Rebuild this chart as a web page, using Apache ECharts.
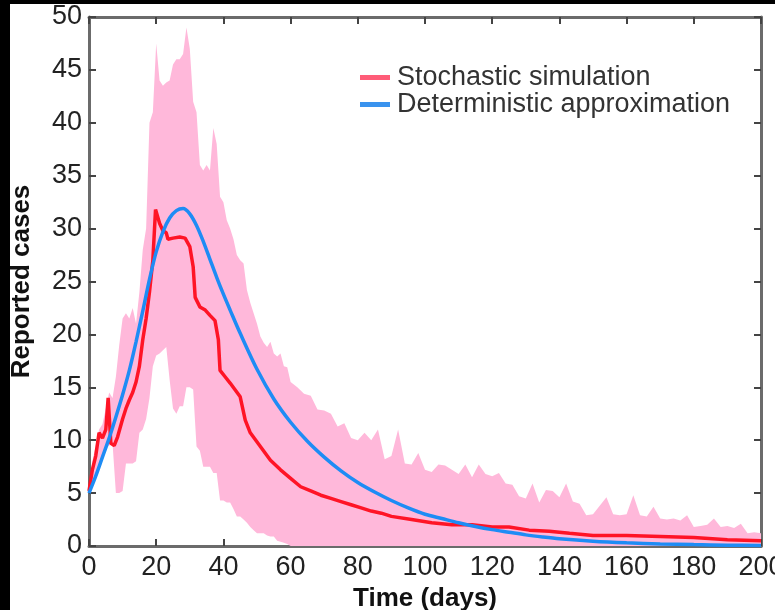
<!DOCTYPE html>
<html>
<head>
<meta charset="utf-8">
<script src="https://cdn.jsdelivr.net/npm/echarts@6/dist/echarts.min.js"></script>
<style>
  html, body { margin: 0; padding: 0; background: #000; }
  #chart { position: absolute; left: 10px; top: 4px; width: 765px; height: 606px; background: #fff; }
</style>
</head>
<body>
<div id="chart"></div>
<script>
// spread of the simulations (pink band)
const bandDays = [0,1,2,3,4,5,6,7,8,9,10,11,12,13,14,15,16,17,18,19,20,21,22,23,24,25,26,27,28,29,30,
  31,32,33,34,35,36,37,38,39,40,41,42,43,44,45,46,47,48,49,50,51,52,53,54,55,56,57,58,59,60,
  62,64,66,68,70,72,74,76,78,80,82,84,86,88,90,92,94,96,98,100,102,104,106,108,110,112,114,116,118,120,
  122,124,126,128,130,132,134,136,138,140,142,144,146,148,150,152,154,156,158,160,162,164,166,168,170,
  172,174,176,178,180,182,184,186,188,190,192,194,196,198,200];
const bandHigh = [5.5,8,9.5,11,11.5,13,14.5,14,16,19,21.5,22,21.5,22.5,21,24,28,30,40,41,47.5,44,43.5,43.8,44,45.5,46,46,46.5,49,47,
  42,41,36,35.5,36,35.5,39.5,38,33,32.5,30.8,30,29,27.5,27,26.7,24.2,23,22,21,19.8,19.2,18.8,19.3,18.2,17.9,18.2,17,16.9,15.5,
  15,14.4,14.2,12.9,12.8,12.5,11.3,11.6,10.2,10,10.7,10,11,8.2,8.5,11,7.8,7.7,8.8,7.2,7,7.7,7.6,7.2,6.8,7.7,6.5,7.7,6.8,6.6,
  6.9,5.9,5.8,4.7,4.5,5.9,4.1,5.3,5.2,4.6,5.9,4.2,4,2.9,3,3.8,4.6,3,2.9,3,4.8,2.9,2.8,3.7,2.6,
  2.5,2.6,2.4,2.9,1.8,1.9,2,2.6,1.8,1.9,1.7,2.1,1.2,1.3,1.2];
const bandLow = [5,5.5,6.5,7.5,8.5,9.2,9.5,9.7,5,5,5.2,7.8,7.8,7.8,8,10.7,11,12,14,17,18,18.2,18.5,18.8,15.7,13,12.5,13.2,13.2,15,15,
  14.8,9.4,9,7.5,7.5,7.5,6.9,6.9,4.3,4.3,4.1,4.1,3.5,2.8,2.8,2.5,2.2,1.8,1.5,1.2,1.2,1.2,1,0.9,0.9,0.5,0.4,0.3,0.2,0,
  0,0,0,0,0,0,0,0,0,0,0,0,0,0,0,0,0,0,0,0,0,0,0,0,0,0,0,0,0,0,
  0,0,0,0,0,0,0,0,0,0,0,0,0,0,0,0,0,0,0,0,0,0,0,0,0,
  0,0,0,0,0,0,0,0,0,0,0,0,0,0,0];

// stochastic simulation (red)
const simDays = [0,1,2,3,4,5,5.7,6.5,7.5,8.5,10,11,12,13,14,15,16,17,18,19,19.8,21,22,23,23.5,25,27,28.6,30,31,31.6,33,34.6,36,37.5,38.5,39,
  40.5,42,45,46.5,48,51,54,57,60,63,66,69,72,75,78,81,84,87,90,96,102,108,114,120,125,131,137,143,150,160,170,180,190,200];
const simMean = [5.2,7.2,8.5,10.7,10.2,11,14,9.7,9.5,10.3,12,13,13.8,14.5,15.5,17,19.5,21.5,24,27,31.8,30.5,29.8,29.6,29,29.1,29.2,29.1,28.3,26.4,23.5,22.6,22.3,21.8,21.3,19.5,16.6,
  16,15.4,14.1,11.9,10.7,9.4,8.1,7.2,6.4,5.6,5.2,4.8,4.5,4.2,3.9,3.6,3.3,3.1,2.8,2.5,2.2,2,2,1.8,1.8,1.5,1.4,1.2,1,1,0.9,0.8,0.6,0.5];

// deterministic approximation (blue)
const detDays = [0,2,4,6,8,10,12,14,16,18,20,22,24,26,28,30,32,34,36,38,40,42,45,50,55,60,65,70,75,80,85,90,95,100,
  105,110,115,120,125,130,135,140,150,160,170,180,190,200];
const detValues = [5,6.6,8.4,10.2,12.2,14.3,16.6,19.3,22.2,25.2,27.8,29.7,31,31.7,31.9,31.4,30.3,28.8,27.1,25.4,23.8,22.3,20.1,16.7,13.9,11.7,9.9,8.4,7.1,6,5.1,4.3,3.6,3,
  2.6,2.2,1.85,1.55,1.3,1.05,0.85,0.68,0.45,0.3,0.2,0.13,0.08,0.05];

const xTicks = [0, 200, 20];
const yTicks = [0, 50, 5];

const zip = (xs, ys) => xs.map((x, i) => [x, ys[i]]);

const font = 'Liberation Sans';
const axisGray = '#6b6b6b';
const frameAxis = (extra) => Object.assign({
  axisLine: { onZero: false, lineStyle: { color: axisGray, width: 3 } },
  axisTick: { inside: true, length: 7, lineStyle: { color: '#444', width: 2 } },
  splitLine: { show: false }
}, extra);

// band drawn as one polygon: upper edge forward, lower edge back
const renderBand = (params, api) => {
  if (params.dataIndex !== 0) return;
  const pts = bandDays.map((d, i) => api.coord([d, bandHigh[i]]));
  for (let i = bandDays.length - 1; i >= 0; i--) pts.push(api.coord([bandDays[i], bandLow[i]]));
  return { type: 'polygon', shape: { points: pts }, style: { fill: '#ffb8da' } };
};

const chart = echarts.init(document.getElementById('chart'));
chart.setOption({
  animation: false,
  backgroundColor: '#fff',
  grid: { left: 79, top: 13, right: 14, bottom: 64, outerBoundsMode: 'none', containLabel: false },
  legend: {
    orient: 'vertical', left: 345, top: 55,
    itemWidth: 30, itemHeight: 5, itemGap: 0, icon: 'rect',
    textStyle: { fontFamily: font, fontSize: 27, color: '#333', lineHeight: 26, padding: [0, 0, 0, 2] },
    data: [
      { name: 'Stochastic simulation', itemStyle: { color: '#ff5c78' } },
      { name: 'Deterministic approximation', itemStyle: { color: '#3a93ee' } }
    ]
  },
  xAxis: [
    frameAxis({
      type: 'value', min: xTicks[0], max: xTicks[1], interval: xTicks[2],
      name: 'Time (days)', nameLocation: 'middle', nameGap: 40,
      nameTextStyle: { fontFamily: font, fontSize: 26, fontWeight: 'bold', color: '#111' },
      axisLabel: { fontFamily: font, fontSize: 27, color: '#222', margin: 8 }
    }),
    frameAxis({
      type: 'value', position: 'top', min: xTicks[0], max: xTicks[1], interval: xTicks[2],
      axisLabel: { show: false }
    })
  ],
  yAxis: [
    frameAxis({
      type: 'value', min: yTicks[0], max: yTicks[1], interval: yTicks[2],
      name: 'Reported cases', nameLocation: 'middle', nameGap: 54,
      nameTextStyle: { fontFamily: font, fontSize: 26, fontWeight: 'bold', color: '#111' },
      axisLabel: { fontFamily: font, fontSize: 27, color: '#222', margin: 7 }
    }),
    frameAxis({
      type: 'value', position: 'right', min: yTicks[0], max: yTicks[1], interval: yTicks[2],
      axisLabel: { show: false }
    })
  ],
  series: [
    {
      name: 'band', type: 'custom', renderItem: renderBand, silent: true, z: 1,
      data: zip(bandDays, bandHigh), encode: { x: 0, y: 1 }
    },
    {
      name: 'Stochastic simulation', type: 'line', symbol: 'none',
      data: zip(simDays, simMean),
      lineStyle: { color: '#ff1426', width: 3.5 }, itemStyle: { color: '#ff1426' }, z: 3
    },
    {
      name: 'Deterministic approximation', type: 'line', symbol: 'none', smooth: 0.3,
      data: zip(detDays, detValues),
      lineStyle: { color: '#1e8cf5', width: 3.5 }, itemStyle: { color: '#1e8cf5' }, z: 4
    }
  ]
});
</script>
</body>
</html>
